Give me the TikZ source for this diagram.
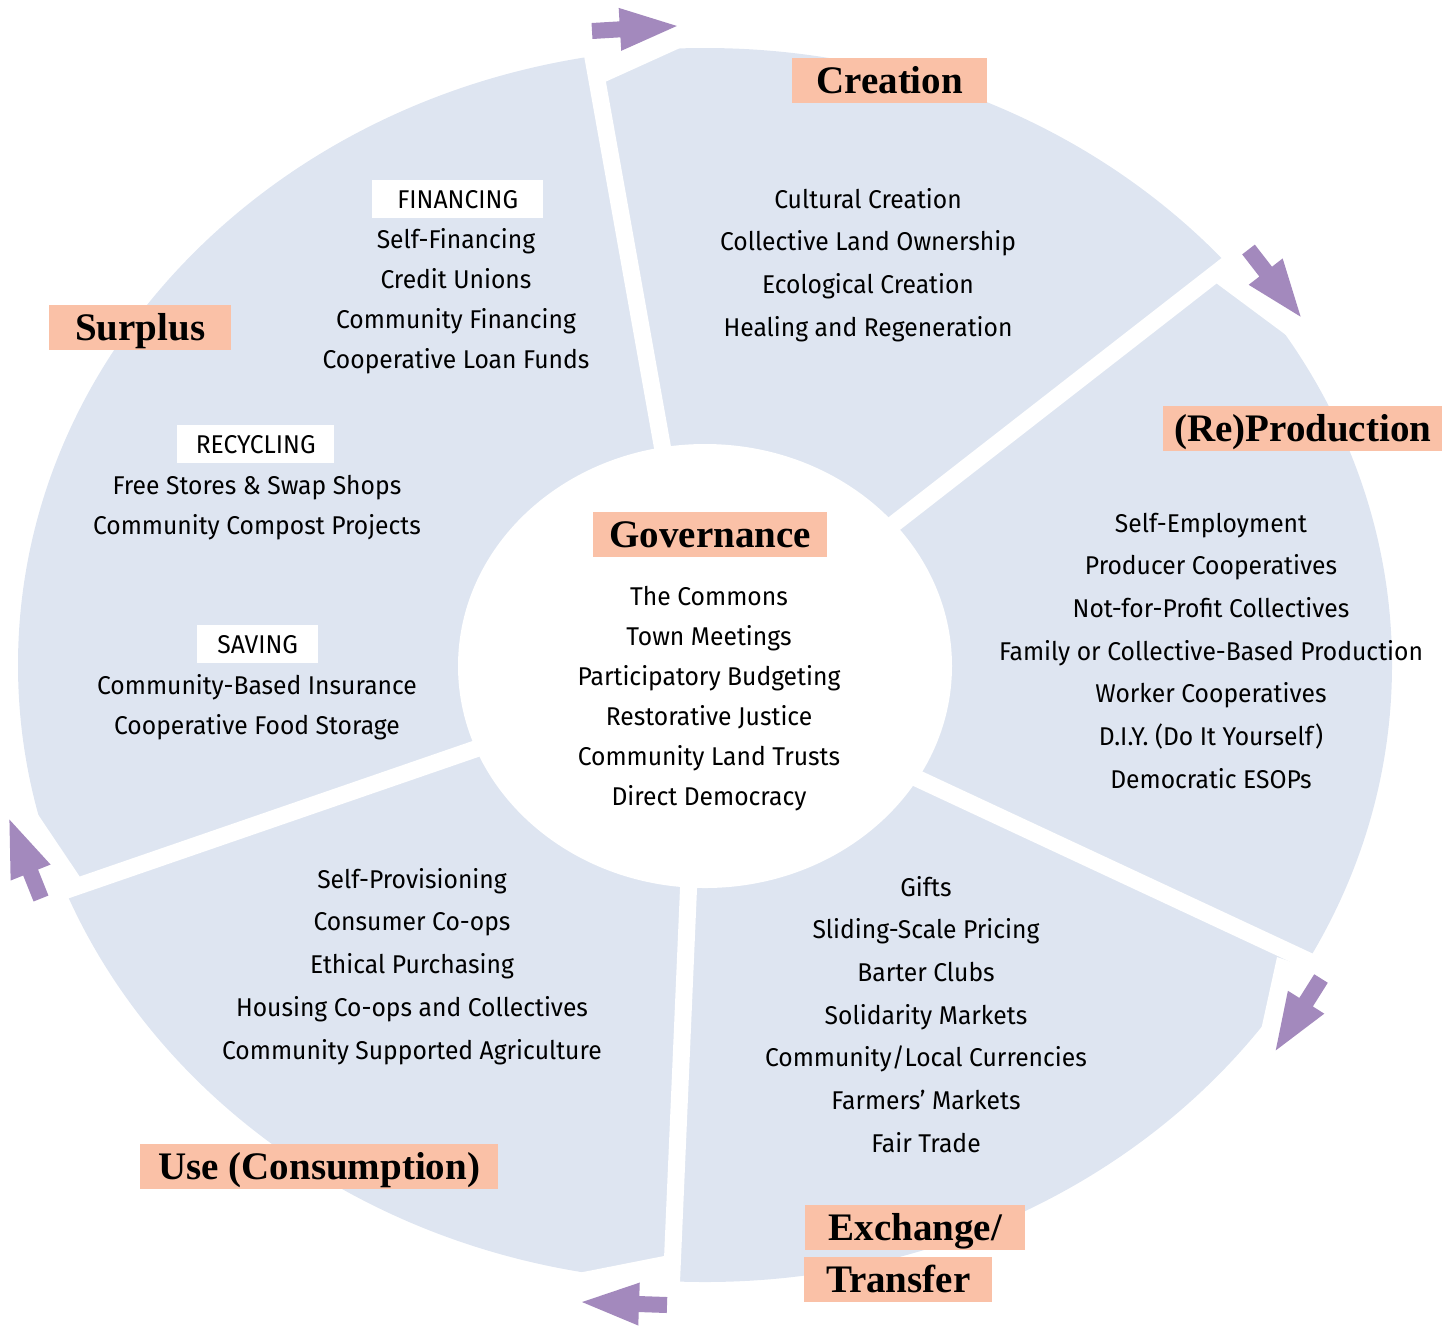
\documentclass[tikz,border=0pt]{standalone}
\usepackage{fontspec}
\setmainfont{Fira Sans}[FakeStretch=0.96]
\newfontfamily\headfont{Liberation Serif}
\definecolor{sector}{RGB}{222,229,241}
\definecolor{salmon}{RGB}{250,193,167}
\definecolor{arrowc}{RGB}{163,137,189}
\begin{document}
\begin{tikzpicture}[x=1pt,y=-1pt,
  body/.style={font=\fontsize{25.7}{30}\selectfont, inner sep=0pt, anchor=base},
  head/.style={fill=salmon, font=\headfont\bfseries\fontsize{39}{39}\selectfont, inner sep=0pt, minimum height=45pt, text height=26pt, text depth=0pt, anchor=north west},
  tag/.style={fill=white, font=\fontsize{25.7}{30}\selectfont, inner sep=0pt, minimum height=38pt, text height=17.7pt, text depth=0pt, anchor=north west},
  gap/.style={white, line width=17pt},
  cut/.style={fill=white},
  pics/blockarrow/.style={code={\fill[arrowc] (0,8)--(28,8)--(28,21.5)--(85,0)--(28,-21.5)--(28,-8)--(0,-8)--cycle;}}
]
\useasboundingbox (0,0) rectangle (1447,1326);
% wheel
\fill[sector] (705,665) ellipse [x radius=687pt, y radius=617pt];
% chamfered corners
\fill[cut] (605,82) -- (680,48) -- (680,0) -- (590,0) -- cycle;
\fill[cut] (1216,283) -- (1286,335) -- (1340,290) -- (1262,240) -- cycle;
\fill[cut] (1277,957) -- (1330,975) -- (1320,1070) -- (1261,1030) -- cycle;
\fill[cut] (664,1256) -- (578,1273) -- (578,1326) -- (664,1326) -- cycle;
\fill[cut] (80,877) -- (37,813) -- (0,813) -- (0,891) -- (40,891) -- cycle;
% gaps
\draw[gap] (679,540) -- (582.7,0);
\draw[gap] (850,558) -- (1265,235);
\draw[gap] (870,756.4) -- (1345,978);
\draw[gap] (690.6,840) -- (669.6,1326);
\draw[gap] (520,733.6) -- (0,913);
% centre
\fill[white] (705,666) ellipse [x radius=247pt, y radius=222pt];
% arrows
\pic[rotate=3.4] (a1) at (592,31) {blockarrow};
\pic[rotate=-52.2] (a2) at (1248.5,249.5) {blockarrow};
\pic[rotate=-122.2] (a3) at (1321,978.5) {blockarrow};
\pic[rotate=178] (a4) at (667,1305) {blockarrow};
\pic[rotate=111.8] (a5) at (41,898.5) {blockarrow};
% headings
\node[head, minimum width=195pt] (hcre) at (792,58) {Creation};
\node[head, minimum width=279pt] (hrep) at (1163,406) {(Re)Production};
\node[head, minimum width=234pt] (hgov) at (593,512) {Governance};
\node[head, minimum width=182pt] (hsur) at (49,305) {Surplus};
\node[head, minimum width=358pt] (huse) at (140,1144) {Use (Consumption)};
\node[head, minimum width=220pt] (hexa) at (805,1205) {Exchange/};
\node[head, minimum width=188pt] (hexb) at (804,1257) {Transfer};
% tags
\node[tag, minimum width=171pt] (tfin) at (372,180) {FINANCING};
\node[tag, minimum width=157pt] (trec) at (177,425) {RECYCLING};
\node[tag, minimum width=121pt] (tsav) at (197,625) {SAVING};
% lists
\foreach \t [count=\i from 0] in {Cultural Creation, Collective Land Ownership, Ecological Creation, Healing and Regeneration}
  \node[body] (cr\i) at (868, 208+42.7*\i) {\t};
\foreach \t [count=\i from 0] in {Self-Financing, Credit Unions, Community Financing, Cooperative Loan Funds}
  \node[body] (fi\i) at (456, 248+40*\i) {\t};
\foreach \t [count=\i from 0] in {Free Stores \& Swap Shops, Community Compost Projects}
  \node[body] (re\i) at (257, 494+40*\i) {\t};
\foreach \t [count=\i from 0] in {Community-Based Insurance, Cooperative Food Storage}
  \node[body] (sa\i) at (257, 694+40*\i) {\t};
\foreach \t [count=\i from 0] in {The Commons, Town Meetings, Participatory Budgeting, Restorative Justice, Community Land Trusts, Direct Democracy}
  \node[body] (go\i) at (709, 605+40*\i) {\t};
\foreach \t [count=\i from 0] in {Self-Employment, Producer Cooperatives, Not-for-Profit Collectives, Family or Collective-Based Production, Worker Cooperatives, {D.I.Y. (Do It Yourself)}, Democratic ESOPs}
  \node[body] (pr\i) at (1211, 532+42.67*\i) {\t};
\foreach \t [count=\i from 0] in {Gifts, Sliding-Scale Pricing, Barter Clubs, Solidarity Markets, Community/Local Currencies, Farmers’ Markets, Fair Trade}
  \node[body] (ex\i) at (926, 896+42.67*\i) {\t};
\foreach \t [count=\i from 0] in {Self-Provisioning, Consumer Co-ops, Ethical Purchasing, Housing Co-ops and Collectives, Community Supported Agriculture}
  \node[body] (us\i) at (412, 888+42.75*\i) {\t};
\end{tikzpicture}
\end{document}
